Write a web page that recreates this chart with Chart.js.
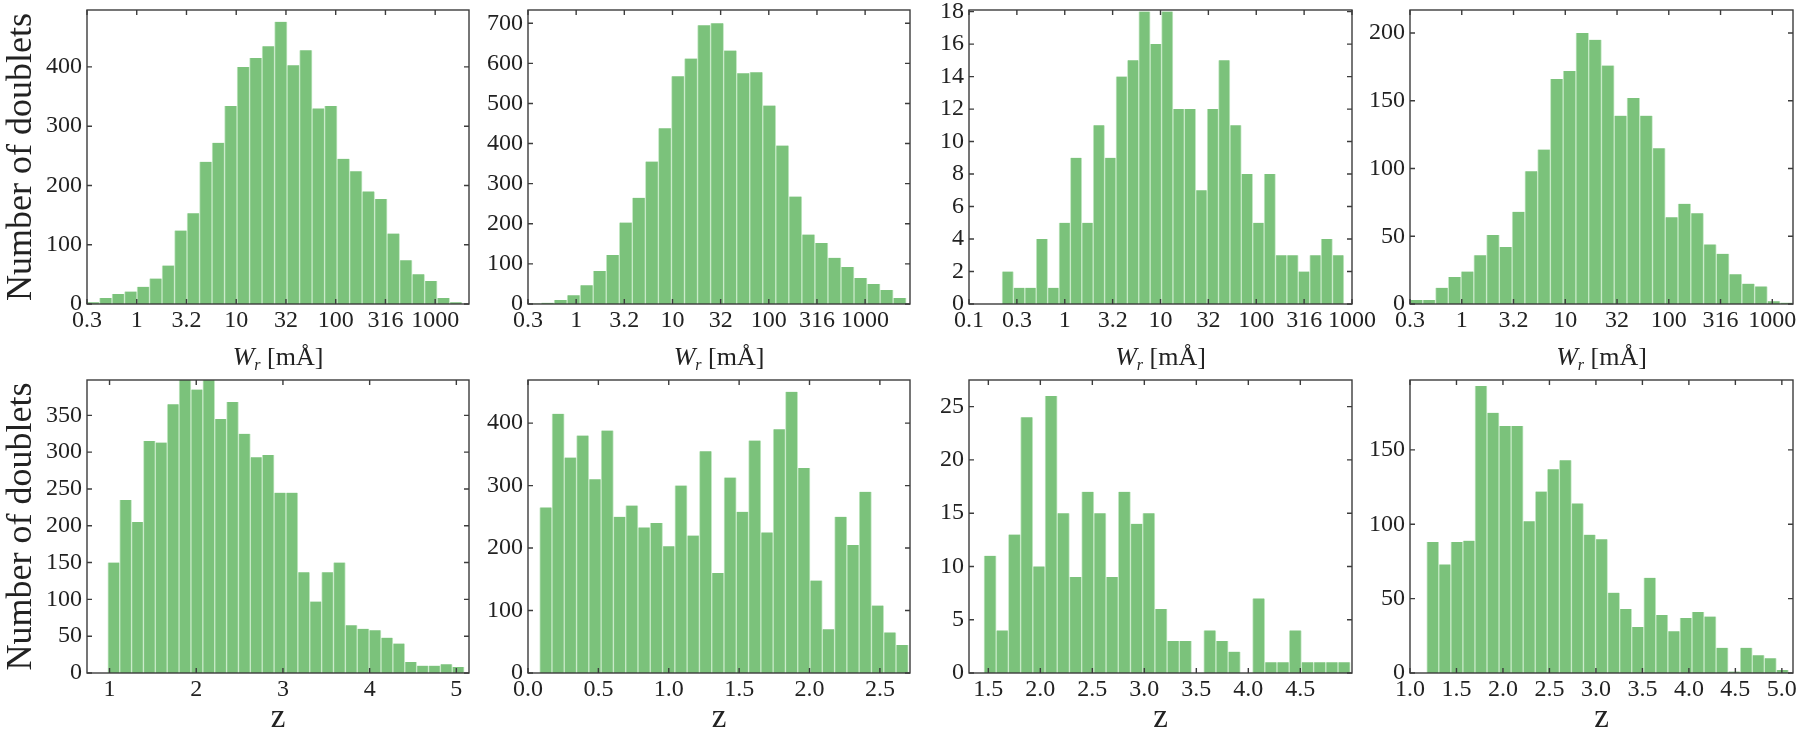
<!DOCTYPE html>
<html>
<head>
<meta charset="utf-8">
<script src="https://cdn.jsdelivr.net/npm/chart.js@4"></script>
<style>
  html, body { margin: 0; padding: 0; background: #fff; overflow: hidden; }
  #wrap { position: relative; width: 1812px; height: 733px; }
  #wrap canvas { position: absolute; }
</style>
</head>
<body>
<div id="wrap"></div>
<script>
// counts per bin, top row: rest-frame equivalent width (bins in log10 mA)
const wrCounts1 = [3, 10, 17, 21, 29, 43, 65, 124, 153, 240, 272, 334, 400, 415, 435, 476, 403, 428, 330, 334, 245, 224, 190, 177, 119, 74, 50, 39, 10, 3];
const wrCounts2 = [1, 3, 10, 22, 47, 82, 122, 203, 265, 355, 438, 568, 612, 695, 700, 632, 575, 578, 495, 395, 268, 173, 152, 115, 92, 65, 50, 35, 15];
const wrCounts3 = [2, 1, 1, 4, 1, 5, 9, 5, 11, 9, 14, 15, 18, 16, 18, 12, 12, 7, 12, 15, 11, 8, 5, 8, 3, 3, 2, 3, 4, 3];
const wrCounts4 = [3, 3, 12, 20, 24, 36, 51, 42, 68, 98, 114, 166, 172, 200, 195, 176, 139, 152, 139, 115, 64, 74, 67, 44, 37, 22, 15, 13, 2, 1];

// counts per bin, bottom row: redshift
const zCounts1 = [150, 235, 205, 315, 313, 365, 400, 385, 401, 345, 368, 325, 293, 296, 245, 245, 137, 97, 137, 150, 65, 60, 58, 48, 40, 15, 10, 10, 12, 8];
const zCounts2 = [265, 415, 345, 380, 310, 388, 250, 268, 233, 240, 203, 300, 220, 355, 160, 313, 258, 372, 225, 390, 450, 328, 148, 70, 250, 205, 290, 108, 65, 45];
const zCounts3 = [11, 4, 13, 24, 10, 26, 15, 9, 17, 15, 9, 17, 14, 15, 6, 3, 3, 0, 4, 3, 2, 0, 7, 1, 1, 4, 1, 1, 1, 1];
const zCounts4 = [88, 73, 88, 89, 193, 175, 166, 166, 102, 122, 137, 143, 114, 93, 90, 54, 43, 31, 64, 39, 28, 37, 41, 38, 17, 1, 17, 12, 10, 2];

// first bin edge and bin width of each histogram
const wrBinStart = [-0.5, -0.5, -0.655, -0.5];
const wrBinWidth = [0.1257, 0.1354, 0.119, 0.1233];
const zBinStart = [0.98, 0.083, 1.458, 1.18];
const zBinWidth = [0.137, 0.0873, 0.1174, 0.1297];

// axis limits
const wrXRange = [[-0.5, 3.34], [-0.5, 3.466], [-1, 3], [-0.5, 3.2]];
const zXRange = [[0.74, 5.146], [0, 2.714], [1.314, 4.997], [1.0, 5.12]];
const wrYMax = [496, 733, 18.1, 217];
const wrYStep = [100, 100, 2, 50];
const zYMax = [398, 469, 27.5, 197];
const zYStep = [50, 100, 5, 50];

// x tick values and labels
const wrTickValues = [-1, -0.5, 0, 0.5, 1, 1.5, 2, 2.5, 3];
const wrTickLabels = ['0.1', '0.3', '1', '3.2', '10', '32', '100', '316', '1000'];
const zTickValues1 = [1, 2, 3, 4, 5];
const zTickLabels1 = ['1', '2', '3', '4', '5'];
const zTickValues2 = [0, 0.5, 1, 1.5, 2, 2.5];
const zTickLabels2 = ['0.0', '0.5', '1.0', '1.5', '2.0', '2.5'];
const zTickValues3 = [1.5, 2, 2.5, 3, 3.5, 4, 4.5];
const zTickLabels3 = ['1.5', '2.0', '2.5', '3.0', '3.5', '4.0', '4.5'];
const zTickValues4 = [1, 1.5, 2, 2.5, 3, 3.5, 4, 4.5, 5];
const zTickLabels4 = ['1.0', '1.5', '2.0', '2.5', '3.0', '3.5', '4.0', '4.5', '5.0'];

// layout of the plot frames on the page
const colLeft = [87, 528, 969, 1410];
const colRight = [469, 910, 1352, 1793];
const rowTop = [10, 380];
const rowBottom = [304, 673];
const padL = 87, padR = 30, padT = 10, padB = 66;

const FONT = '"Liberation Serif", "Times New Roman", serif';
const TEXT = '#222';
Chart.defaults.font.family = FONT;

const framePlugin = {
    id: 'frame',
    afterDatasetsDraw(chart) {
        const {ctx, chartArea: a, scales: {x, y}} = chart;
        ctx.save();
        ctx.strokeStyle = '#3c3c3c';
        ctx.lineWidth = 1.4;
        ctx.beginPath();
        x.ticks.forEach(t => {
            const px = x.getPixelForValue(t.value);
            ctx.moveTo(px, a.bottom); ctx.lineTo(px, a.bottom - 5);
            ctx.moveTo(px, a.top); ctx.lineTo(px, a.top + 5);
        });
        y.ticks.forEach(t => {
            const py = y.getPixelForValue(t.value);
            ctx.moveTo(a.left, py); ctx.lineTo(a.left + 5, py);
            ctx.moveTo(a.right, py); ctx.lineTo(a.right - 5, py);
        });
        ctx.stroke();
        ctx.strokeRect(a.left, a.top, a.right - a.left, a.bottom - a.top);
        ctx.restore();
    }
};

// "W_r [mÅ]" needs an italic W with a subscript, so it is drawn here
const wrTitlePlugin = {
    id: 'wrTitle',
    afterDraw(chart) {
        const {ctx, chartArea: a} = chart;
        const main = '26px ' + FONT;
        const sub = '16px ' + FONT;
        ctx.save();
        ctx.fillStyle = TEXT;
        ctx.textBaseline = 'alphabetic';
        ctx.textAlign = 'left';
        ctx.font = 'italic ' + main;
        const wW = ctx.measureText('W').width;
        ctx.font = 'italic ' + sub;
        const wR = ctx.measureText('r').width;
        ctx.font = main;
        const wU = ctx.measureText(' [mÅ]').width;
        let x0 = (a.left + a.right) / 2 - (wW + wR + wU) / 2;
        const y0 = a.bottom + 61;
        ctx.font = 'italic ' + main;
        ctx.fillText('W', x0, y0);
        x0 += wW;
        ctx.font = 'italic ' + sub;
        ctx.fillText('r', x0, y0 + 5);
        x0 += wR;
        ctx.font = main;
        ctx.fillText(' [mÅ]', x0, y0);
        ctx.restore();
    }
};

function addPanel(row, col, counts, binStart, binWidth, xRange, yMax, yStep, tickValues, tickLabels) {
    const L = colLeft[col], R = colRight[col], T = rowTop[row], B = rowBottom[row];
    const w = padL + (R - L) + padR;
    const h = padT + (B - T) + padB;
    const canvas = document.createElement('canvas');
    canvas.width = w;
    canvas.height = h;
    canvas.style.left = (L - padL) + 'px';
    canvas.style.top = (T - padT) + 'px';
    canvas.style.width = w + 'px';
    canvas.style.height = h + 'px';
    document.getElementById('wrap').appendChild(canvas);

    const shown = tickValues.filter(v => v >= xRange[0] - 1e-9 && v <= xRange[1] + 1e-9);
    const yTicks = [];
    for (let k = 0; k * yStep <= yMax + 1e-9; k++) yTicks.push({value: k * yStep});

    new Chart(canvas, {
        type: 'bar',
        data: {
            datasets: [{
                data: counts.map((c, i) => ({x: binStart + (i + 0.5) * binWidth, y: c})),
                backgroundColor: 'rgb(123, 194, 123)',
                borderColor: '#c6e9c6',
                borderWidth: {left: 1, right: 1, top: 0, bottom: 0},
                barPercentage: 1,
                categoryPercentage: 1,
                clip: 0
            }]
        },
        options: {
            responsive: false,
            animation: false,
            devicePixelRatio: 1,
            layout: {padding: {top: padT, right: padR, left: 0, bottom: 0}},
            plugins: {legend: {display: false}, tooltip: {enabled: false}},
            scales: {
                x: {
                    type: 'linear',
                    min: xRange[0],
                    max: xRange[1],
                    offset: false,
                    grid: {display: false, drawTicks: false},
                    border: {display: false},
                    afterBuildTicks: s => { s.ticks = shown.map(v => ({value: v})); },
                    afterFit: s => { s.height = padB; s.paddingLeft = 0; s.paddingRight = 0; },
                    ticks: {
                        autoSkip: false,
                        maxRotation: 0,
                        padding: 2,
                        color: TEXT,
                        font: {size: 24},
                        callback: v => tickLabels[tickValues.indexOf(v)]
                    },
                    title: {
                        display: row === 1,
                        text: 'z',
                        color: TEXT,
                        font: {size: 33, lineHeight: 1},
                        padding: {top: 0, bottom: 4.5}
                    }
                },
                y: {
                    min: 0,
                    max: yMax,
                    grid: {display: false, drawTicks: false},
                    border: {display: false},
                    afterBuildTicks: s => { s.ticks = yTicks.slice(); },
                    afterFit: s => { s.width = padL; s.paddingTop = 0; s.paddingBottom = 0; },
                    ticks: {
                        autoSkip: false,
                        padding: 5,
                        color: TEXT,
                        font: {size: 24},
                        callback: v => String(v)
                    },
                    title: {
                        display: col === 0,
                        text: 'Number of doublets',
                        color: TEXT,
                        font: {size: 36, lineHeight: 1},
                        padding: {top: 4, bottom: 0}
                    }
                }
            }
        },
        plugins: row === 0 ? [framePlugin, wrTitlePlugin] : [framePlugin]
    });
}

const wrCounts = [wrCounts1, wrCounts2, wrCounts3, wrCounts4];
const zCounts = [zCounts1, zCounts2, zCounts3, zCounts4];
const zTickValues = [zTickValues1, zTickValues2, zTickValues3, zTickValues4];
const zTickLabels = [zTickLabels1, zTickLabels2, zTickLabels3, zTickLabels4];

for (let c = 0; c < 4; c++) {
    addPanel(0, c, wrCounts[c], wrBinStart[c], wrBinWidth[c], wrXRange[c], wrYMax[c], wrYStep[c], wrTickValues, wrTickLabels);
    addPanel(1, c, zCounts[c], zBinStart[c], zBinWidth[c], zXRange[c], zYMax[c], zYStep[c], zTickValues[c], zTickLabels[c]);
}
</script>
</body>
</html>
